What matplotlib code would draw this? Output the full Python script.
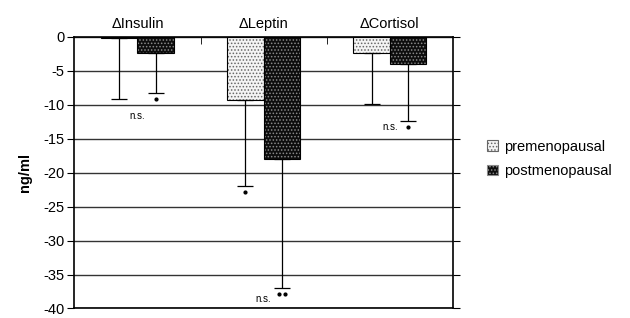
import numpy as np
import matplotlib.pyplot as plt

plt.rcParams['font.family'] = ['Liberation Sans', 'DejaVu Sans']
plt.rcParams['axes.unicode_minus'] = False
plt.rcParams['hatch.linewidth'] = 0.7

groups = ['\u0394Insulin', '\u0394Leptin', '\u0394Cortisol']
pre = [-0.1, -9.3, -2.3]
post = [-2.3, -18.0, -4.0]
pre_err = [9.0, 12.6, 7.6]
post_err = [6.0, 19.0, 8.4]
# annotations: (group, y) for "n.s." and (group, series, marker) for significance dots
ns_labels = [(0, -11.7), (1, -38.6), (2, -13.3)]
stars = [(0, 1, '*'), (1, 0, '*'), (1, 1, '**'), (2, 1, '*')]

x = np.arange(len(groups))
w = 0.29

pre_face, pre_hatch = '#f4f4f4', '#666666'
post_face, post_hatch = '#0d0d0d', '#8a8a8a'

fig = plt.figure(figsize=(6.3, 3.18), dpi=100)
ax = fig.add_axes([0.118, 0.03, 0.601, 0.854])

ax.bar(x - w / 2, pre, w, color=pre_face, edgecolor=pre_hatch, hatch='.....', linewidth=0)
ax.bar(x - w / 2, pre, w, color='none', edgecolor='black', linewidth=0.8)
ax.bar(x + w / 2, post, w, color=post_face, edgecolor=post_hatch, hatch='.....', linewidth=0)
ax.bar(x + w / 2, post, w, color='none', edgecolor='black', linewidth=0.8)

# one-sided (downward) error bars
ax.errorbar(x - w / 2, pre, yerr=[pre_err, np.zeros(3)], fmt='none', ecolor='black',
            elinewidth=0.9, capsize=6, capthick=0.9)
ax.errorbar(x + w / 2, post, yerr=[post_err, np.zeros(3)], fmt='none', ecolor='black',
            elinewidth=0.9, capsize=6, capthick=0.9)

for g, y in ns_labels:
    ax.text(g, y, 'n.s.', ha='center', va='center', fontsize=7)

vals = [pre, post]
errs = [pre_err, post_err]
for g, s, t in stars:
    xs = g + (s - 0.5) * w
    ys = vals[s][g] - errs[s][g] - 0.9
    if t == '*':
        ax.plot(xs, ys, 'o', color='black', ms=2)
    else:
        ax.plot([xs - 0.025, xs + 0.025], [ys, ys], 'o', color='black', ms=2, ls='none')

ax.set_xlim(-0.5, 2.5)
ax.set_ylim(-40, 0)
ax.set_yticks(np.arange(-40, 1, 5))
ax.yaxis.grid(True, color='#333333', linewidth=1)
ax.set_axisbelow(True)
ax.tick_params(axis='y', labelsize=10.5, direction='out', length=5, right=True, pad=2)
ax.set_ylabel('ng/ml', fontsize=10.5, fontweight='bold', labelpad=8)

ax.xaxis.tick_top()
ax.set_xticks(x)
ax.set_xticklabels(groups, fontsize=10.5)
ax.tick_params(axis='x', length=0, pad=4)
ax.set_xticks([0.5, 1.5], minor=True)
ax.tick_params(axis='x', which='minor', direction='in', length=5, top=True, bottom=False)

for sp in ax.spines.values():
    sp.set_linewidth(1.2)

pp = plt.Rectangle((0, 0), 1, 1, facecolor=pre_face, edgecolor=pre_hatch, hatch='.....', linewidth=0.8)
pq = plt.Rectangle((0, 0), 1, 1, facecolor=post_face, edgecolor=post_hatch, hatch='.....', linewidth=0.8)
fig.legend([pp, pq], ['premenopausal', 'postmenopausal'], loc='center left',
           bbox_to_anchor=(0.752, 0.5), frameon=False, fontsize=10.5,
           handlelength=0.75, handleheight=0.75, handletextpad=0.4, labelspacing=0.7)

fig.savefig('out.png', dpi=100)
